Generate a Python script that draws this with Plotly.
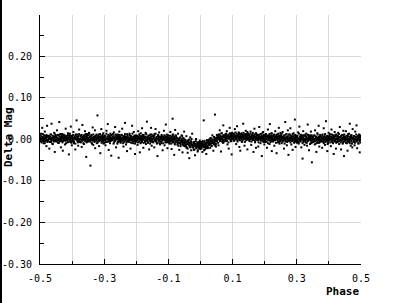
import plotly.graph_objects as go

# Phase in thousandths of a cycle, delta magnitude in millimag
# Scattered points (wider spread, including outliers)
PHASE_MILLI = [
    -500,-499,-497,-496,-494,-493,-492,-490,-489,-487,-486,-485,-484,-482,-481,-480,-479,-478,-477,-476,
    -475,-473,-472,-471,-470,-468,-467,-466,-464,-463,-462,-460,-459,-458,-456,-455,-454,-453,-452,-451,
    -450,-449,-447,-446,-444,-443,-442,-440,-439,-437,-436,-435,-434,-432,-431,-430,-429,-428,-427,-426,
    -425,-423,-422,-421,-420,-418,-417,-416,-414,-413,-412,-410,-409,-408,-406,-405,-404,-403,-402,-401,
    -400,-399,-397,-396,-394,-393,-392,-390,-389,-387,-386,-385,-384,-382,-381,-380,-379,-378,-377,-376,
    -375,-373,-372,-371,-370,-368,-367,-366,-364,-363,-362,-360,-359,-358,-356,-355,-354,-353,-352,-351,
    -350,-349,-347,-346,-344,-343,-342,-340,-339,-337,-336,-335,-334,-332,-331,-330,-329,-328,-327,-326,
    -325,-323,-322,-321,-320,-318,-317,-316,-314,-313,-312,-310,-309,-308,-306,-305,-304,-303,-302,-301,
    -300,-299,-297,-296,-294,-293,-292,-290,-289,-287,-286,-285,-284,-282,-281,-280,-279,-278,-277,-276,
    -275,-273,-272,-271,-270,-268,-267,-266,-264,-263,-262,-260,-259,-258,-256,-255,-254,-253,-252,-251,
    -250,-249,-247,-246,-244,-243,-242,-240,-239,-237,-236,-235,-234,-232,-231,-230,-229,-228,-227,-226,
    -225,-223,-222,-221,-220,-218,-217,-216,-214,-213,-212,-210,-209,-208,-206,-205,-204,-203,-202,-201,
    -200,-199,-197,-196,-194,-193,-192,-190,-189,-187,-186,-185,-184,-182,-181,-180,-179,-178,-177,-176,
    -175,-173,-172,-171,-170,-168,-167,-166,-164,-163,-162,-160,-159,-158,-156,-155,-154,-153,-152,-151,
    -150,-149,-147,-146,-144,-143,-142,-140,-139,-137,-136,-135,-134,-132,-131,-130,-129,-128,-127,-126,
    -125,-123,-122,-121,-120,-118,-117,-116,-114,-113,-112,-110,-109,-108,-106,-105,-104,-103,-102,-101,
    -100,-99,-97,-96,-94,-93,-92,-90,-89,-87,-86,-85,-84,-82,-81,-80,-79,-78,-77,-76,
    -75,-73,-72,-71,-70,-68,-67,-66,-64,-63,-62,-60,-59,-58,-56,-55,-54,-53,-52,-51,
    -50,-49,-47,-46,-44,-43,-42,-40,-39,-37,-36,-35,-34,-32,-31,-30,-29,-28,-27,-26,
    -25,-23,-22,-21,-20,-18,-17,-16,-14,-13,-12,-10,-9,-8,-6,-5,-4,-3,-2,-1,
    0,1,3,4,6,7,8,10,11,13,14,15,16,18,19,20,21,22,23,24,
    25,27,28,29,30,32,33,34,36,37,38,40,41,42,44,45,46,47,48,49,
    50,51,53,54,56,57,58,60,61,63,64,65,66,68,69,70,71,72,73,74,
    75,77,78,79,80,82,83,84,86,87,88,90,91,92,94,95,96,97,98,99,
    100,101,103,104,106,107,108,110,111,113,114,115,116,118,119,120,121,122,123,124,
    125,127,128,129,130,132,133,134,136,137,138,140,141,142,144,145,146,147,148,149,
    150,151,153,154,156,157,158,160,161,163,164,165,166,168,169,170,171,172,173,174,
    175,177,178,179,180,182,183,184,186,187,188,190,191,192,194,195,196,197,198,199,
    200,201,203,204,206,207,208,210,211,213,214,215,216,218,219,220,221,222,223,224,
    225,227,228,229,230,232,233,234,236,237,238,240,241,242,244,245,246,247,248,249,
    250,251,253,254,256,257,258,260,261,263,264,265,266,268,269,270,271,272,273,274,
    275,277,278,279,280,282,283,284,286,287,288,290,291,292,294,295,296,297,298,299,
    300,301,303,304,306,307,308,310,311,313,314,315,316,318,319,320,321,322,323,324,
    325,327,328,329,330,332,333,334,336,337,338,340,341,342,344,345,346,347,348,349,
    350,351,353,354,356,357,358,360,361,363,364,365,366,368,369,370,371,372,373,374,
    375,377,378,379,380,382,383,384,386,387,388,390,391,392,394,395,396,397,398,399,
    400,401,403,404,406,407,408,410,411,413,414,415,416,418,419,420,421,422,423,424,
    425,427,428,429,430,432,433,434,436,437,438,440,441,442,444,445,446,447,448,449,
    450,451,453,454,456,457,458,460,461,463,464,465,466,468,469,470,471,472,473,474,
    475,477,478,479,480,482,483,484,486,487,488,490,491,492,494,495,496,497,498,500,
]

MAG_MMAG = [
    3,-5,14,1,-2,28,6,-1,-9,4,0,19,-4,8,2,-16,5,33,-1,7,
    -3,9,2,-22,5,1,12,-6,38,0,4,-11,7,-2,16,3,-30,6,-1,10,
    5,-1,22,3,-8,0,11,42,-4,2,7,-19,1,13,-3,6,-27,4,9,-2,
    0,6,-12,3,26,-2,8,1,-7,15,4,-36,2,10,-1,5,31,-5,3,-14,
    7,-3,1,18,-9,4,2,-24,12,0,46,-1,6,3,-15,9,-4,24,1,-6,
    2,-7,10,4,-18,35,1,-2,6,-11,3,20,-3,8,-42,0,5,13,-5,2,
    -4,3,16,-1,7,-63,2,11,-8,4,29,0,-13,6,1,-3,22,-21,5,9,
    1,-9,5,58,3,-2,12,-16,0,7,-33,4,25,-5,2,9,-1,15,-10,6,
    4,-2,9,-14,1,21,-6,3,37,0,-25,8,2,-4,14,5,-1,-39,11,3,
    -1,6,2,-10,17,4,-3,30,1,-19,8,0,12,-6,3,-44,5,19,-2,7,
    3,-8,11,0,26,-3,5,-17,2,8,-1,40,4,-12,6,1,-28,13,-4,2,
    5,0,-6,14,2,-22,8,3,-2,33,1,-9,6,18,-4,4,-35,0,10,-1,
    -2,7,1,-13,20,4,-5,9,-31,2,15,0,-7,27,3,-1,6,-20,11,4,
    6,-3,2,16,-11,0,43,5,-8,1,9,-24,3,-2,12,-5,28,2,-15,0,
    1,-6,8,3,-19,13,-2,25,0,6,-10,2,-40,9,4,-3,17,-1,7,-12,
    0,4,-9,11,2,-26,5,-1,21,3,-14,8,-4,36,1,-7,6,-21,2,10,
    -2,5,-10,1,18,-5,3,-23,7,50,-7,12,-1,-37,4,-12,23,2,-4,8,
    -5,2,-12,-3,14,-8,-1,-25,4,-9,-16,-4,10,-2,-31,-7,3,-14,-6,19,
    -9,-16,-4,-12,8,-20,-7,-32,-11,-2,-14,-45,-8,5,-18,-10,-26,-6,-13,14,
    -14,-19,-10,-25,-6,-16,-38,-12,1,-21,-15,-8,-29,-17,-11,-9,-20,-13,-3,-18,
    -12,-20,-6,-16,-30,-9,-14,46,-18,-4,-24,-11,-13,-35,-8,-17,-2,-21,-15,-10,
    -5,-12,0,-8,-20,3,-3,-15,-7,10,-1,-27,-9,6,-4,60,-11,-2,-17,4,
    2,-5,9,4,-14,12,1,22,-2,6,-29,3,15,0,7,-8,34,5,-3,10,
    6,1,13,-4,8,20,3,-12,9,2,-22,5,28,7,-1,11,4,-36,15,6,
    4,9,-3,14,6,25,1,8,-11,5,32,10,-2,7,17,3,-18,12,6,-27,
    8,2,15,-6,5,11,38,0,7,-15,9,3,21,-2,6,13,-24,4,10,1,
    3,10,-4,7,19,1,-13,5,12,-1,8,-30,4,26,6,-7,2,14,-20,9,
    5,-2,11,3,-17,8,30,0,6,-9,13,2,-40,7,4,18,-5,1,9,-12,
    2,8,-6,13,1,-20,5,24,-2,9,3,-11,37,0,6,-4,15,-28,4,7,
    4,-3,10,1,-15,6,20,-1,8,-33,3,12,-7,2,28,5,-10,7,0,16,
    1,7,-9,3,18,-2,5,-22,10,0,42,-5,4,13,-14,6,-1,22,2,-37,
    -3,5,12,-1,27,4,-12,2,8,-25,0,15,3,-6,48,1,-18,9,5,-2,
    6,-4,2,17,-10,1,31,-2,7,3,-19,11,0,-46,5,20,-6,2,9,-13,
    0,8,-7,3,14,-15,2,36,-3,6,-26,1,10,-1,19,4,-9,-55,7,2,
    3,-5,9,1,-12,22,-2,6,-30,4,15,0,-8,33,2,-17,7,-1,11,-4,
    -2,6,1,-20,12,3,-6,27,0,8,-13,4,44,-3,2,-28,9,1,-9,16,
    4,-1,13,2,-16,7,24,0,-6,10,3,-35,5,18,-3,8,1,-22,12,-5,
    1,9,-4,16,3,-11,6,30,-2,5,-24,2,11,0,-8,21,4,-40,7,3,
    -1,5,20,0,-9,3,-27,8,2,14,-4,38,1,-15,6,-2,10,3,-19,25,
    2,-6,8,1,-14,19,-3,5,34,0,-21,7,3,-9,12,-1,-31,4,9,0,
]

# Dense core of the band
CORE_PHASE_MILLI = [
    -500,-499,-498,-497,-495,-494,-493,-491,-490,-489,-488,-487,-485,-484,-483,-482,-480,-479,-478,-477,
    -474,-473,-471,-470,-469,-467,-466,-465,-463,-462,-461,-459,-458,-457,-456,-455,-454,-453,-452,-451,
    -450,-449,-448,-447,-445,-444,-443,-441,-440,-439,-438,-437,-435,-434,-433,-432,-430,-429,-428,-427,
    -424,-423,-421,-420,-419,-417,-416,-415,-413,-412,-411,-409,-408,-407,-406,-405,-404,-403,-402,-401,
    -400,-399,-398,-397,-395,-394,-393,-391,-390,-389,-388,-387,-385,-384,-383,-382,-380,-379,-378,-377,
    -374,-373,-371,-370,-369,-367,-366,-365,-363,-362,-361,-359,-358,-357,-356,-355,-354,-353,-352,-351,
    -350,-349,-348,-347,-345,-344,-343,-341,-340,-339,-338,-337,-335,-334,-333,-332,-330,-329,-328,-327,
    -324,-323,-321,-320,-319,-317,-316,-315,-313,-312,-311,-309,-308,-307,-306,-305,-304,-303,-302,-301,
    -300,-299,-298,-297,-295,-294,-293,-291,-290,-289,-288,-287,-285,-284,-283,-282,-280,-279,-278,-277,
    -274,-273,-271,-270,-269,-267,-266,-265,-263,-262,-261,-259,-258,-257,-256,-255,-254,-253,-252,-251,
    -250,-249,-248,-247,-245,-244,-243,-241,-240,-239,-238,-237,-235,-234,-233,-232,-230,-229,-228,-227,
    -224,-223,-221,-220,-219,-217,-216,-215,-213,-212,-211,-209,-208,-207,-206,-205,-204,-203,-202,-201,
    -200,-199,-198,-197,-195,-194,-193,-191,-190,-189,-188,-187,-185,-184,-183,-182,-180,-179,-178,-177,
    -174,-173,-171,-170,-169,-167,-166,-165,-163,-162,-161,-159,-158,-157,-156,-155,-154,-153,-152,-151,
    -150,-149,-148,-147,-145,-144,-143,-141,-140,-139,-138,-137,-135,-134,-133,-132,-130,-129,-128,-127,
    -124,-123,-121,-120,-119,-117,-116,-115,-113,-112,-111,-109,-108,-107,-106,-105,-104,-103,-102,-101,
    -100,-99,-98,-97,-95,-94,-93,-91,-90,-89,-88,-87,-85,-84,-83,-82,-80,-79,-78,-77,
    -74,-73,-71,-70,-69,-67,-66,-65,-63,-62,-61,-59,-58,-57,-56,-55,-54,-53,-52,-51,
    -50,-49,-48,-47,-45,-44,-43,-41,-40,-39,-38,-37,-35,-34,-33,-32,-30,-29,-28,-27,
    -24,-23,-21,-20,-19,-17,-16,-15,-13,-12,-11,-9,-8,-7,-6,-5,-4,-3,-2,-1,
    0,1,2,3,5,6,7,9,10,11,12,13,15,16,17,18,20,21,22,23,
    26,27,29,30,31,33,34,35,37,38,39,41,42,43,44,45,46,47,48,49,
    50,51,52,53,55,56,57,59,60,61,62,63,65,66,67,68,70,71,72,73,
    76,77,79,80,81,83,84,85,87,88,89,91,92,93,94,95,96,97,98,99,
    100,101,102,103,105,106,107,109,110,111,112,113,115,116,117,118,120,121,122,123,
    126,127,129,130,131,133,134,135,137,138,139,141,142,143,144,145,146,147,148,149,
    150,151,152,153,155,156,157,159,160,161,162,163,165,166,167,168,170,171,172,173,
    176,177,179,180,181,183,184,185,187,188,189,191,192,193,194,195,196,197,198,199,
    200,201,202,203,205,206,207,209,210,211,212,213,215,216,217,218,220,221,222,223,
    226,227,229,230,231,233,234,235,237,238,239,241,242,243,244,245,246,247,248,249,
    250,251,252,253,255,256,257,259,260,261,262,263,265,266,267,268,270,271,272,273,
    276,277,279,280,281,283,284,285,287,288,289,291,292,293,294,295,296,297,298,299,
    300,301,302,303,305,306,307,309,310,311,312,313,315,316,317,318,320,321,322,323,
    326,327,329,330,331,333,334,335,337,338,339,341,342,343,344,345,346,347,348,349,
    350,351,352,353,355,356,357,359,360,361,362,363,365,366,367,368,370,371,372,373,
    376,377,379,380,381,383,384,385,387,388,389,391,392,393,394,395,396,397,398,399,
    400,401,402,403,405,406,407,409,410,411,412,413,415,416,417,418,420,421,422,423,
    426,427,429,430,431,433,434,435,437,438,439,441,442,443,444,445,446,447,448,449,
    450,451,452,453,455,456,457,459,460,461,462,463,465,466,467,468,470,471,472,473,
    476,477,479,480,481,483,484,485,487,488,489,491,492,493,494,495,496,497,498,499,
]

CORE_MAG_MMAG = [
    4,-2,9,2,-7,7,1,13,-4,5,0,10,-9,3,6,-3,11,-1,8,-6,
    -1,8,3,-6,6,1,12,-3,4,-10,9,2,-2,7,-5,5,14,0,10,-4,
    7,0,-5,5,11,-2,2,-8,8,3,-1,13,-4,6,1,9,-7,4,-3,12,
    1,10,-3,4,-9,8,5,-1,11,-5,2,7,0,14,-6,3,-2,9,-8,6,
    6,-4,2,11,-1,-6,7,4,-10,9,1,5,12,-3,3,-7,8,0,13,-2,
    -6,8,-1,11,-3,6,3,-9,10,0,5,-4,13,1,7,-7,2,9,-2,4,
    -4,10,0,14,5,-5,7,-2,2,9,-10,4,-3,12,1,6,-6,3,8,-1,
    12,-3,4,-7,9,1,6,-4,13,-1,3,8,-8,2,-2,11,5,-5,0,7,
    6,-8,9,-2,3,-6,14,0,7,2,-5,11,-1,5,8,-9,4,-3,10,1,
    -2,13,0,8,-7,3,-3,12,5,1,9,-10,4,7,-6,-1,11,2,-4,6,
    0,6,-5,2,11,-3,3,-9,8,-1,4,-6,13,1,-2,7,-7,5,-4,10,
    5,-4,1,10,-2,3,-8,7,0,14,-5,2,6,-3,9,-1,-10,4,-6,8,
    -3,4,9,-1,-7,6,2,12,-4,1,5,-9,8,-2,3,-5,11,0,7,-8,
    3,-6,7,0,13,-4,-1,5,-7,9,2,-3,4,-10,10,1,6,-5,12,-2,
    -2,8,2,-7,5,10,-3,0,14,-5,3,-1,-8,7,1,11,-4,4,-9,6,
    3,-5,8,1,-3,6,-9,2,10,-1,4,-7,0,7,-4,12,-2,5,-6,1,
    5,-2,-7,3,9,-4,0,-10,6,1,-3,11,-6,4,-1,7,-9,2,-5,10,
    -5,4,-9,-2,-15,2,-1,-7,5,-11,-4,1,-6,8,-12,-3,-8,3,-14,0,
    -6,-16,-10,-1,-13,-18,-5,-8,-22,-3,-11,-7,0,-15,-9,-19,-4,-12,1,-14,
    -13,-19,-8,-15,-24,-10,-16,-4,-21,-12,-17,-7,-26,-14,-11,-20,-6,-18,-9,-23,
    -17,-8,-13,-22,-10,-15,-4,-19,-12,-26,-7,-14,-18,-9,-21,-11,-2,-16,-6,-20,
    -1,-8,-13,-3,3,-10,-6,-16,0,-5,-9,5,-12,-2,-7,1,-15,-4,-11,4,
    2,11,-2,5,-8,9,6,0,12,-4,3,8,1,15,-5,4,-1,10,-7,7,
    9,-1,5,14,2,-3,10,7,-7,12,4,8,15,0,6,-4,11,3,16,1,
    8,2,13,6,-3,11,5,17,0,9,4,14,-5,7,10,1,15,3,12,-2,
    3,12,7,-2,10,5,16,1,8,-6,13,6,2,11,-1,9,18,4,14,0,
    10,3,-2,8,14,1,5,-5,11,6,2,16,-1,9,4,12,-4,7,0,15,
    3,12,-1,6,-7,10,7,1,13,-3,4,9,2,16,-4,5,0,11,-6,8,
    7,-3,3,12,0,-5,8,5,-9,10,2,6,13,-2,4,-6,9,1,14,-1,
    -5,9,0,12,-2,7,4,-8,11,1,6,-3,14,2,8,-6,3,10,-1,5,
    -4,10,0,14,5,-5,7,-2,2,9,-10,4,-3,12,1,6,-6,3,8,-1,
    12,-3,4,-7,9,1,6,-4,13,-1,3,8,-8,2,-2,11,5,-5,0,7,
    6,-8,9,-2,3,-6,14,0,7,2,-5,11,-1,5,8,-9,4,-3,10,1,
    -3,12,-1,7,-8,2,-4,11,4,0,8,-11,3,6,-7,-2,10,1,-5,5,
    -1,5,-6,1,10,-4,2,-10,7,-2,3,-7,12,0,-3,6,-8,4,-5,9,
    4,-5,0,9,-3,2,-9,6,-1,13,-6,1,5,-4,8,-2,-11,3,-7,7,
    -3,4,9,-1,-7,6,2,12,-4,1,5,-9,8,-2,3,-5,11,0,7,-8,
    3,-6,7,0,13,-4,-1,5,-7,9,2,-3,4,-10,10,1,6,-5,12,-2,
    -3,7,1,-8,4,9,-4,-1,13,-6,2,-2,-9,6,0,10,-5,3,-10,5,
    3,-3,8,1,-8,6,0,12,-5,4,-1,9,-10,2,5,-4,10,-2,7,-7,
]

X_TICK_VALS = [-0.5, -0.3, -0.1, 0.1, 0.3, 0.5]
X_TICK_TEXT = ["-0.5", "-0.3", "-0.1", "0.1", "0.3", "0.5"]
Y_TICK_VALS = [-0.3, -0.2, -0.1, 0.0, 0.1, 0.2]
Y_TICK_TEXT = ["-0.30", "-0.20", "-0.10", "0.00", "0.10", "0.20"]

n1 = min(len(PHASE_MILLI), len(MAG_MMAG))
n2 = min(len(CORE_PHASE_MILLI), len(CORE_MAG_MMAG))
phase = [p / 1000 for p in PHASE_MILLI[:n1]] + [p / 1000 for p in CORE_PHASE_MILLI[:n2]]
mag = [m / 1000 for m in MAG_MMAG[:n1]] + [m / 1000 for m in CORE_MAG_MMAG[:n2]]

GRID = "#d9d9d9"
TICKFONT = dict(family="DejaVu Sans Mono", size=10, color="black")

fig = go.Figure()
fig.add_trace(go.Scatter(
    x=phase, y=mag, mode="markers",
    marker=dict(symbol="square", size=2, color="black", line=dict(width=0)),
    hoverinfo="skip", showlegend=False,
))

fig.update_layout(
    width=395, height=303,
    margin=dict(l=40, r=34, t=15, b=39, pad=0),
    paper_bgcolor="white", plot_bgcolor="white",
    showlegend=False,
)

fig.update_xaxes(
    range=[-0.5, 0.5], automargin=False,
    tickmode="array", tickvals=X_TICK_VALS, ticktext=X_TICK_TEXT,
    ticks="inside", ticklen=5, tickwidth=1, tickcolor="black",
    showline=True, linecolor="black", linewidth=1, mirror=False,
    showgrid=True, gridcolor=GRID, gridwidth=1, zeroline=False,
    tickfont=TICKFONT, ticklabelstandoff=5,
    minor=dict(tickmode="linear", tick0=-0.5, dtick=0.1, ticks="inside",
               ticklen=3, tickcolor="black", showgrid=True, gridcolor=GRID),
)
fig.update_yaxes(
    range=[-0.30, 0.2999], automargin=False,
    tickmode="array", tickvals=Y_TICK_VALS, ticktext=Y_TICK_TEXT,
    ticks="inside", ticklen=5, tickwidth=1, tickcolor="black",
    showline=True, linecolor="black", linewidth=1, mirror=False,
    showgrid=True, gridcolor=GRID, gridwidth=1, zeroline=False,
    tickfont=TICKFONT, ticklabelstandoff=5,
    minor=dict(tickmode="linear", tick0=-0.3, dtick=0.05, ticks="inside",
               ticklen=4, tickcolor="black", showgrid=False),
)

plot_w = 395 - 40 - 34
plot_h = 303 - 15 - 39

fig.add_annotation(
    text="<b>Phase</b>", xref="paper", yref="paper",
    x=1, y=-(291 - 264) / plot_h,
    xanchor="right", yanchor="middle", showarrow=False,
    font=dict(family="DejaVu Sans Mono", size=11, color="black"),
)
fig.add_annotation(
    text="<b>Delta Mag</b>", xref="paper", yref="paper",
    x=-(40 - 8) / plot_w, y=(264 - 137) / plot_h,
    xanchor="center", yanchor="middle", textangle=-90, showarrow=False,
    font=dict(family="DejaVu Sans Mono", size=11, color="black"),
)
# left border of the image
fig.add_shape(
    type="line", xref="paper", yref="paper",
    x0=-(40 - 1) / plot_w, x1=-(40 - 1) / plot_w,
    y0=-39 / plot_h, y1=1 + 15 / plot_h,
    line=dict(color="black", width=2),
)

fig.write_html("out.html")
